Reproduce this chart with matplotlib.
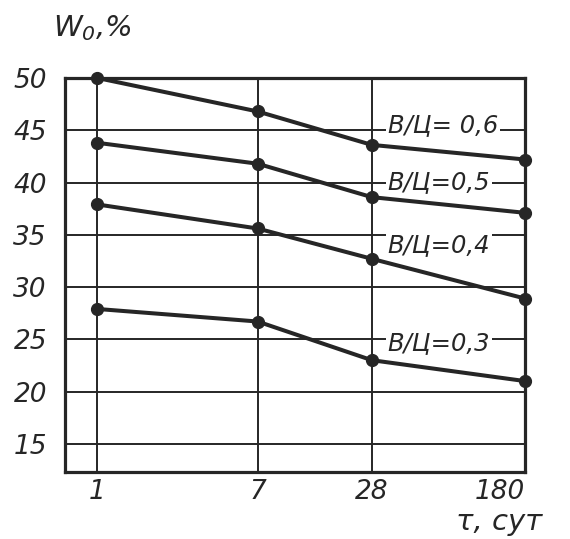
import matplotlib
matplotlib.use("Agg")
import matplotlib.pyplot as plt
from matplotlib.ticker import NullLocator

# curing time, days (x) and open porosity W0, % (y) per water/cement ratio
days = [1, 7, 28, 180]
day_labels = ["1", "7", "28", "180"]
w_06 = [50.0, 46.8, 43.6, 42.2]
w_05 = [43.8, 41.8, 38.6, 37.1]
w_04 = [37.9, 35.6, 32.7, 28.9]
w_03 = [27.9, 26.7, 23.0, 21.0]
series = [w_06, w_05, w_04, w_03]
wc_labels = ["В/Ц= 0,6", "В/Ц=0,5", "В/Ц=0,4", "В/Ц=0,3"]
y_ticks = [15, 20, 25, 30, 35, 40, 45, 50]

INK = "#262626"

plt.rcParams["font.family"] = "DejaVu Sans"
plt.rcParams["font.style"] = "italic"
plt.rcParams["mathtext.fontset"] = "dejavusans"

fig = plt.figure(figsize=(5.7, 5.39), dpi=100)
ax = fig.add_axes([65 / 570, 67 / 539, 460 / 570, 394 / 539])

ax.set_xscale("log")
ax.set_xlim(0.675, 180)
ax.set_ylim(12.3, 50)
ax.xaxis.set_minor_locator(NullLocator())
ax.set_xticks(days, day_labels)
ax.set_yticks(y_ticks)
ax.tick_params(axis="both", length=0, labelsize=19, colors=INK)
ax.tick_params(axis="y", pad=13)
ax.tick_params(axis="x", pad=5)
ax.get_xticklabels()[-1].set_ha("right")

ax.grid(True, color=INK, linewidth=1.4)
ax.set_axisbelow(True)
for spine in ax.spines.values():
    spine.set_color(INK)
    spine.set_linewidth(2.3)

for vals in series:
    ax.plot(days, vals, color=INK, linewidth=2.9, marker="o", markersize=8.5,
            clip_on=False, zorder=4)

# curve labels sit on the grid, breaking the gridline like in the drawing
label_y = [45.5, 40.0, 34.0, 24.6]
for text, y in zip(wc_labels, label_y):
    ax.text(34, y, text, fontsize=17.5, ha="left", va="center", color=INK,
            bbox=dict(facecolor="white", edgecolor="none", pad=1.5), zorder=3)

fig.text(53 / 570, 1 - 28 / 539, r"$W_0$,%", fontsize=21, ha="left",
         va="center", color=INK)
fig.text(456 / 570, 1 - 522 / 539, "τ, сут", fontsize=21, ha="left",
         va="center", color=INK)

fig.savefig("out.png", dpi=100, facecolor="white")
